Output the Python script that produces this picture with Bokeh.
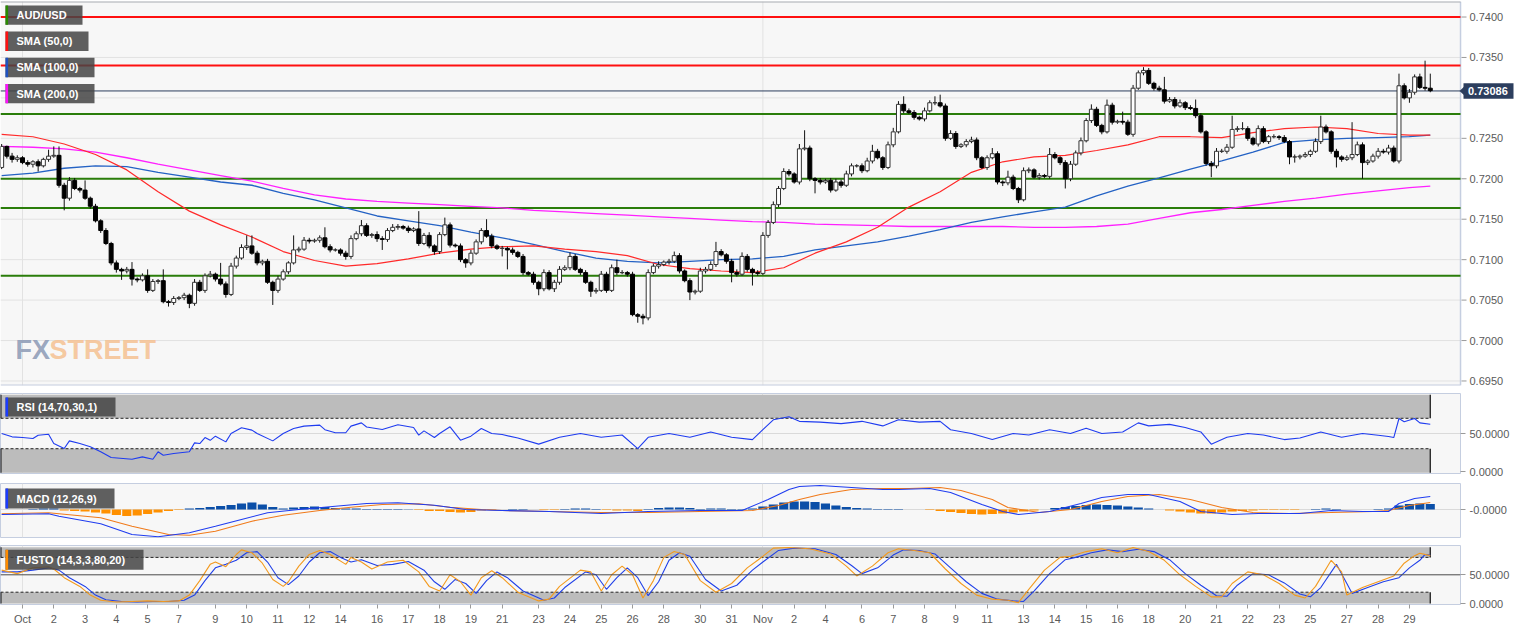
import numpy as np
from bokeh.plotting import figure
from bokeh.models import Range1d, Span, FixedTicker, NumeralTickFormatter
from bokeh.layouts import column
from bokeh.embed import file_html
from bokeh.resources import INLINE
from bokeh.core.properties import value

# ------------------------------------------------------------------ data
# 4-hour candles, bar index 0 = Oct 1 00:00 (prices in pips, 1e-4)
first_open = 7214
closes = [
    7240,7228,7224,7226,7220,7218,7221,7216,7224,7228,7229,7192,7176,7198,7188,7186,7176,7166,7148,7136,7120,7096,7088,7086,7088,
    7076,7075,7080,7062,7073,7074,7048,7047,7052,7053,7056,7046,7072,7062,7080,7082,7076,7070,7057,7092,7102,7115,7117,7108,7096,
    7098,7072,7062,7076,7085,7096,7112,7113,7124,7123,7124,7127,7116,7112,7112,7108,7104,7126,7132,7142,7130,7131,7126,7125,7136,
    7140,7141,7139,7136,7138,7120,7130,7117,7110,7131,7143,7118,7117,7100,7096,7108,7122,7136,7129,7117,7114,7114,7112,7109,7104,
    7084,7082,7072,7064,7084,7064,7072,7088,7090,7104,7088,7084,7072,7061,7062,7082,7062,7090,7084,7084,7082,7032,7030,7028,7084,
    7092,7094,7097,7098,7105,7086,7074,7060,7061,7086,7088,7094,7110,7106,7098,7084,7082,7104,7088,7084,7083,7130,7146,7168,7188,
    7209,7206,7196,7237,7238,7200,7198,7196,7198,7186,7196,7192,7206,7216,7216,7210,7222,7234,7226,7214,7242,7258,7292,7284,7282,
    7276,7274,7284,7294,7294,7290,7250,7256,7240,7242,7246,7248,7226,7214,7226,7231,7196,7195,7202,7188,7174,7210,7211,7202,7204,
    7203,7230,7226,7220,7200,7218,7232,7247,7272,7286,7266,7258,7291,7270,7271,7270,7255,7312,7331,7334,7318,7312,7310,7296,7298,
    7290,7294,7288,7287,7278,7258,7219,7216,7234,7234,7239,7261,7262,7262,7250,7243,7262,7246,7252,7252,7251,7246,7227,7227,7228,
    7230,7234,7246,7264,7258,7234,7227,7224,7226,7230,7242,7220,7222,7228,7234,7233,7238,7222,7315,7300,7307,7326,7313,7312,7309,
]
wick_up = [
    3,1,4,3,2,3,2,3,2,8,11,11,3,4,3,2,12,2,3,2,3,2,3,2,3,
    9,2,3,8,3,2,14,2,3,2,3,2,4,3,3,4,2,20,3,4,3,4,13,13,3,
    2,3,2,4,3,2,18,3,4,3,2,3,13,3,2,2,3,4,3,7,3,2,4,3,3,
    4,3,2,3,2,22,3,4,2,3,9,3,2,3,2,4,3,3,14,3,2,3,2,3,2,
    3,2,3,2,4,3,3,4,3,5,3,2,3,2,3,4,3,4,10,3,2,3,2,3,4,
    3,4,2,3,5,3,2,3,2,4,3,4,12,3,2,3,4,5,3,2,3,4,3,4,3,
    4,3,2,6,22,3,2,3,2,3,4,3,4,3,2,3,4,8,3,2,4,5,4,10,3,
    3,2,4,3,8,10,3,4,3,2,3,4,3,2,3,7,3,2,8,3,2,4,3,2,3,
    2,8,3,2,3,4,3,4,3,6,3,2,7,3,2,12,3,4,3,4,3,2,3,16,3,
    3,4,2,3,11,3,2,3,4,3,4,17,3,8,3,2,4,3,2,3,2,3,2,3,2,
    3,2,4,14,3,2,3,2,3,40,4,3,2,3,4,3,4,3,15,3,4,3,4,33,18,
]
wick_dn = [
    2,3,4,3,2,3,4,7,2,3,2,3,15,3,2,3,2,3,2,3,2,3,4,11,3,
    8,3,2,3,2,3,2,5,3,2,3,6,3,2,3,2,3,2,4,2,3,2,3,2,3,
    3,2,18,3,2,3,2,3,2,3,2,3,2,3,2,3,4,3,2,3,2,3,4,13,3,
    2,3,2,3,2,3,2,3,4,3,2,3,2,3,6,3,2,3,2,3,2,10,24,3,2,
    3,2,3,8,3,2,4,3,2,3,2,3,2,7,3,2,3,2,3,2,3,2,8,8,3,
    2,3,2,3,2,3,2,10,3,2,3,2,3,2,3,12,3,2,3,16,3,2,3,2,3,
    2,3,2,3,2,3,16,3,2,3,2,3,2,3,2,3,2,3,2,3,2,3,2,3,2,
    3,2,3,2,3,2,3,2,3,2,3,2,3,2,3,2,3,4,3,2,4,2,3,2,3,
    2,3,2,3,12,3,2,3,2,3,2,3,2,3,2,3,2,3,2,3,2,3,2,3,2,
    3,2,3,2,3,2,3,14,3,2,3,2,3,2,3,2,3,2,3,2,3,2,9,7,3,
    2,3,2,3,2,3,13,3,2,3,2,20,3,2,3,2,3,2,3,2,6,3,2,3,2,
]
last_price = 0.73086

# moving averages read once a day
sma_bar = [-4] + list(range(2, 267, 6)) + [270]
sma50 = [7255,7252,7243,7230,7211,7184,7160,7143,7128,7110,7099,7092,7095,7101,7108,7113,7116,7117,7113,7110,
         7105,7094,7089,7086,7084,7090,7108,7122,7140,7165,7184,7208,7221,7227,7229,7235,7242,7252,7252,7251,
         7257,7262,7264,7262,7256,7254,7254]
sma100 = [7204,7207,7213,7216,7215,7208,7202,7196,7192,7182,7174,7164,7154,7148,7142,7134,7127,7119,7110,7102,
          7098,7096,7098,7100,7101,7104,7112,7117,7122,7129,7137,7146,7153,7159,7165,7179,7191,7201,7212,7222,
          7233,7245,7248,7250,7251,7252,7254]
sma200 = [7240,7239,7237,7233,7226,7218,7211,7204,7197,7188,7180,7175,7172,7170,7168,7166,7164,7161,7159,7157,
          7155,7153,7151,7149,7147,7146,7144,7143,7142,7141,7141,7141,7141,7140,7140,7141,7144,7151,7158,7162,
          7167,7172,7176,7181,7185,7189,7191]

red_levels = [0.7400, 0.7340]
green_levels = [0.7280, 0.7200, 0.7164, 0.7080]
price_ticks = [0.6950, 0.7000, 0.7050, 0.7100, 0.7150, 0.7200, 0.7250, 0.7300, 0.7350, 0.7400]

# RSI (14)
rsi_bar = [-4,-2,0,2,3,5,6,8,9,11,13,15,17,21,23,25,26,27,29,32,33,34,35,36,37,39,40,42,44,45,48,50,52,54,57,58,60,62,
           63,65,66,69,72,75,76,77,79,80,82,84,86,88,90,92,95,99,103,107,111,115,118,120,124,128,132,136,140,142,144,
           147,149,153,157,161,165,168,172,176,178,182,186,190,193,197,201,204,207,211,214,216,220,223,226,228,231,
           235,238,242,245,249,253,257,260,262,263,264,265,267,268,270]
rsi_val = [50,45.6,44.7,43.4,47.8,49,36.8,30.3,40.3,36.8,32.5,25.9,18.4,16.2,19.3,16.2,25.9,21.5,23.7,25.9,37.7,36.8,
           44.7,41,46.5,39,50,57.5,54.4,50,40.3,50,56.6,59.7,61,55,51,51,59.7,64,58.5,55.3,61.4,57.9,47.8,53.5,44.7,
           50,58.8,41.2,46.5,56.6,50,48.6,44,36,45,50,45,48,30,45,50,45,52,45,42,55,68,72,66,65,63,66,60,68,65,66,55,
           50,42,50,48,55,50,57,50,52,64,60,62,58,52,36,45,50,48,42,44,52,45,50,47.8,46,44.7,69.7,65.4,69.7,64,62.2]

# MACD (12,26,9) in units of 1e-5
macd_bar = [-4,5,7,15,21,26,32,37,42,47,53,60,66,72,79,85,92,101,111,120,130,138,143,147,149,153,159,165,168,174,
            178,184,188,191,197,203,207,212,216,222,226,232,237,245,251,257,262,264,267,270]
macd_val = [-5,-4.3,-6.7,-14.3,-25,-27.3,-23.3,-16.7,-10,-3.3,0,3.3,6,6.7,4.3,0,-1,-2,-4,-2,-1,-1,10,20,23,24,22,20,
            20,21,17,5,-2,-5,-2,6,12,15,15,8,-2,-5,-4,-4,-1,-2,-2,6,11,13]
sig_bar = [-4,5,15,21,28,32,37,44,50,57,63,69,76,82,88,92,101,111,120,130,140,145,149,153,159,165,170,176,180,186,
           189,195,201,207,212,218,224,230,236,243,251,259,262,266,270]
sig_val = [-4.3,-3.3,-8.3,-16.7,-25,-25.7,-21.7,-11.7,-5.7,-1,2.3,5,5.7,2.3,0,-1,-2,-3,-3,-2,-1,4,10,15,20,21,21,22,
           19,10,2,-3,0,8,13,15,10,2,-3,-4,-3,-2,-1,4,7]
hist_bar = list(range(-4, 271, 2))
hist_val = [0,0,0,0.5,1,1,-1,-1.5,-2,-3,
            -4,-5.5,-6.5,-6,-4.5,-3,-1.5,-0.5,1,1.5,
            2.5,3.5,4.5,6,7,5,2.5,1,2,2.5,
            3,2.5,1.5,1,1,0.5,0.5,0.5,0.5,0.3,
            -0.5,-1.5,-1.5,-2.5,-3,-2.5,-1,-0.5,0,0.5,
            0.5,0,-0.5,-0.5,0.5,1,1,0.5,-0.5,-1,
            -1,-1.5,0.5,1.5,2,2,1.5,0.5,1,1,
            0.5,0.5,1,3,5,7,8,8,7.5,6,
            4,2.5,1.5,1,0.5,0.5,0.5,0,0,-0.5,
            -1.5,-2.5,-3.5,-4.5,-5,-4.5,-4,-3,-2,-1,
            0,1.5,2.5,3.5,4.5,5,4.5,4,3,2,
            1,0,-1,-2,-3,-4,-4,-3,-2,-1.5,
            -1,-0.5,-0.5,-0.5,-0.5,0,0.5,1,0.5,0,
            0,0,0.5,1,4,5.5,6,5.5]

# Full stochastic (14,3,3,80,20)
stk_bar = [-4,-1,2,5,6,8,11,13,15,18,21,24,27,30,32,34,36,37,39,41,42,44,46,48,50,51,53,55,57,59,62,63,65,67,70,73,76,
           78,80,82,84,86,88,90,92,95,99,101,103,107,109,111,113,115,117,119,121,123,125,127,130,133,136,139,141,144,
           147,151,155,158,160,163,166,168,171,174,177,180,183,186,189,191,193,196,199,201,204,207,210,213,216,219,
           222,225,228,230,232,235,238,241,244,246,248,251,253,254,257,260,263,265,267,268,270]
stk_val = [58,52,62,64,60,45,30,15,6,3,4,5,4,5,15,40,68,72,64,85,93,88,70,42,30,38,65,85,92,85,68,80,72,60,72,75,55,
           30,22,50,38,15,45,57,45,20,5,8,30,58,55,22,50,65,50,10,40,80,90,85,40,20,35,62,75,96,97,95,86,65,48,65,88,
           95,92,88,60,35,15,8,6,2,25,58,80,82,90,95,88,97,90,75,50,30,12,12,35,55,50,35,15,10,30,75,55,15,28,38,48,
           70,83,87,83]
std_bar = [-4,-1,2,5,7,9,12,14,16,19,22,25,28,31,33,35,37,39,41,43,45,47,49,51,53,55,57,59,61,63,65,68,71,74,77,79,81,
           83,85,87,89,91,93,96,100,102,104,108,110,112,114,116,118,120,122,124,126,128,131,134,137,140,142,145,148,
           152,156,159,161,164,167,169,172,175,178,181,184,187,190,192,194,197,200,202,205,208,211,214,217,220,223,
           226,229,231,233,236,239,242,245,247,249,252,254,255,258,261,264,266,268,269,270]
std_val = [55,55,58,62,58,45,30,15,7,4,3,4,4,6,15,40,62,68,75,88,90,72,45,33,48,72,88,90,80,72,76,66,68,73,58,38,25,
           42,35,18,40,55,45,22,6,10,28,55,50,25,45,62,45,14,38,75,88,82,42,22,32,58,72,92,96,95,85,66,52,62,84,93,92,
           86,62,38,18,8,5,4,22,52,76,80,88,93,90,94,90,76,52,32,14,13,32,52,50,36,17,12,28,68,35,18,28,38,45,62,75,
           85,84]

tick_bars = [0,6,12,18,24,30,37,43,49,55,61,68,74,80,86,92,99,105,111,117,123,130,136,142,148,154,161,167,173,179,
             185,192,198,204,210,216,223,229,235,241,247,254,260,266]
tick_labels = ["Oct","2","3","4","5","7","9","10","11","12","14","16","17","18","19","21","23","24","25","26","28",
               "30","31","Nov","2","4","6","7","8","9","11","13","14","15","16","18","20","21","22","23","25","27",
               "28","29"]
month_bars = [0, 142]

# ------------------------------------------------------------------ derived
bars = np.arange(-4, 271)
c = np.array(closes, float) / 1e4
o = np.concatenate([[first_open / 1e4], c[:-1]])
hi = np.maximum(o, c) + np.array(wick_up) / 1e4
lo = np.minimum(o, c) - np.array(wick_dn) / 1e4
bull = c >= o

W = 1515
RB = 55
PX = 5.214            # pixels per bar
X0 = -4.22            # left frame edge in bars
XE = 275.8            # right frame edge of the chart area in bars
FONT = "Liberation Sans"
BG = "#f7f7f7"
OUTLINE = "#c5cee0"
LABEL_COL = "#5a5a5a"
xr = Range1d(X0, XE)


def bx(px):
    return (px - 22) / PX


def style(fig):
    fig.background_fill_color = BG
    fig.border_fill_color = "white"
    fig.outline_line_color = OUTLINE
    fig.xaxis.visible = False
    fig.xgrid.ticker = FixedTicker(ticks=month_bars)
    fig.xgrid.grid_line_color = "#e2e2e2"
    ax = fig.yaxis[0]
    ax.axis_line_color = None
    ax.major_tick_out = 5
    ax.major_tick_in = 0
    ax.minor_tick_line_color = None
    ax.major_tick_line_color = "#9a9a9a"
    ax.major_label_text_font_size = "11px"
    ax.major_label_text_color = LABEL_COL
    ax.major_label_text_font = FONT
    ax.major_label_standoff = 4


def tag(fig, x0, x1, yt, yb, text, mcol, ymap):
    fig.quad(left=bx(x0), right=bx(x1), top=ymap(yt), bottom=ymap(yb),
             fill_color="#444444", fill_alpha=0.85, line_color=None)
    fig.quad(left=bx(x0), right=bx(x0 + 2.6), top=ymap(yt), bottom=ymap(yb),
             fill_color=mcol, fill_alpha=1, line_color=None)
    fig.text(x=[bx(x0 + 11)], y=[ymap((yt + yb) / 2)], text=[text], text_baseline="middle",
             text_align="left", text_color="white", text_font_size="11px", text_font_style="bold",
             text_font=value(FONT))


# ------------------------------------------------------------------ main panel
# the frame covers the full width so that the price box can sit in the axis area
YT, YB = 0.74192, 0.69444
xr_main = Range1d(X0, X0 + W / PX)
p = figure(width=W, height=387, x_range=xr_main, y_range=Range1d(YB, YT), output_backend="svg",
           toolbar_location=None, min_border_left=0, min_border_right=0, min_border_top=1, min_border_bottom=2)
p.frame_align = False
p.xaxis.visible = False
p.yaxis.visible = False
p.grid.visible = False
p.outline_line_color = None
p.background_fill_color = "white"
p.border_fill_color = "white"


def main_y(ypx):
    return YT - (ypx - 1) / 396 * (YT - YB)


p.quad(left=X0, right=XE, bottom=YB, top=YT, fill_color=BG, line_color=None)
n = len(price_ticks)
p.segment(x0=[X0] * n, y0=price_ticks, x1=[XE] * n, y1=price_ticks, line_color="#e2e2e2", line_width=1)
p.segment(x0=month_bars, y0=[YB] * 2, x1=month_bars, y1=[YT] * 2, line_color="#e2e2e2", line_width=1)
p.segment(x0=[XE], y0=[YB], x1=[XE], y1=[YT], line_color=OUTLINE, line_width=1.5)
p.segment(x0=[X0], y0=[YT], x1=[XE], y1=[YT], line_color="#a8abb2", line_width=2)
p.segment(x0=[X0], y0=[YB], x1=[XE], y1=[YB], line_color=OUTLINE, line_width=2)

# watermark
p.text(x=[bx(15)], y=[main_y(376)], text=["FX"], text_font=value(FONT),
       text_font_size="27px", text_font_style="bold", text_color="#8f9db8", text_alpha=0.9)
p.text(x=[bx(49)], y=[main_y(376)], text=["STREET"], text_font=value(FONT),
       text_font_size="27px", text_font_style="bold", text_color="#f5c395", text_alpha=0.9)

nr, ng = len(red_levels), len(green_levels)
p.segment(x0=[X0] * nr, y0=red_levels, x1=[XE] * nr, y1=red_levels, line_color="#ff1010", line_width=2)
p.segment(x0=[X0] * ng, y0=green_levels, x1=[XE] * ng, y1=green_levels, line_color="#2a7d0a", line_width=2)
p.segment(x0=[X0], y0=[last_price], x1=[XE], y1=[last_price], line_color="#2c3e5e", line_width=1)

p.line(sma_bar, np.array(sma200) / 1e4, line_color="#ff20ff", line_width=1.3)
p.line(sma_bar, np.array(sma100) / 1e4, line_color="#2462c4", line_width=1.3)
p.line(sma_bar, np.array(sma50) / 1e4, line_color="#ff2a2a", line_width=1.2)

p.segment(bars, hi, bars, lo, line_color="#111111", line_width=1)
p.vbar(x=bars[bull], width=0.76, top=c[bull], bottom=o[bull], fill_color="white", line_color="#333333",
       line_width=1)
p.vbar(x=bars[~bull], width=0.76, top=o[~bull], bottom=c[~bull], fill_color="black", line_color="black",
       line_width=1)

tag(p, 5, 82, 5, 25, "AUD/USD", "#2a8a00", main_y)
tag(p, 5, 88, 32, 52, "SMA (50,0)", "#ff1010", main_y)
tag(p, 5, 94, 59, 79, "SMA (100,0)", "#1f52c0", main_y)
tag(p, 5, 94, 86, 106, "SMA (200,0)", "#ff10ff", main_y)

# price axis drawn in the area right of the chart
shown = [t for t in price_ticks if abs(t - 0.7300) > 1e-9]
p.segment(x0=[bx(1461)] * len(shown), y0=shown, x1=[bx(1466)] * len(shown), y1=shown,
          line_color="#9a9a9a", line_width=1)
p.text(x=[bx(1469)] * len(shown), y=shown, text=["%.4f" % t for t in shown], text_baseline="middle",
       text_align="left", text_color=LABEL_COL, text_font_size="11px", text_font=value(FONT))

# current price marker
h = 8 / 396 * (YT - YB)
p.patch(x=[bx(1459), bx(1464), bx(1464)], y=[last_price, last_price + h * 0.6, last_price - h * 0.6],
        fill_color="#2c3e5e", line_color=None)
p.quad(left=bx(1463), right=bx(1513), bottom=last_price - h, top=last_price + h, fill_color="#2c3e5e",
       line_color=None)
p.text(x=[bx(1467.5)], y=[last_price], text=["%.5f" % last_price], text_baseline="middle", text_align="left",
       text_color="white", text_font_size="11px", text_font_style="bold", text_font=value(FONT))


def bands(fig, lo_band, hi_band, top_edge, bottom_edge):
    last = float(bars[-1])
    fig.quad(left=X0, right=last, bottom=hi_band, top=top_edge, fill_color="#bcbcbc", line_color=None)
    fig.quad(left=X0, right=last, bottom=bottom_edge, top=lo_band, fill_color="#bcbcbc", line_color=None)
    fig.segment([last, last], [hi_band, bottom_edge], [last, last], [top_edge, lo_band], line_color="#111111",
                line_width=1.2)
    fig.segment([X0, X0], [hi_band, bottom_edge], [X0, X0], [top_edge, lo_band],
                line_color="#111111", line_width=2)
    fig.segment([X0, X0], [hi_band, lo_band], [last, last], [hi_band, lo_band],
                line_color="#222222", line_width=1, line_dash="3 2")


# ------------------------------------------------------------------ RSI
r = figure(width=W, height=93, x_range=xr, y_range=Range1d(-2.6, 102.6), output_backend="svg",
           toolbar_location=None, y_axis_location="right", min_border_left=0, min_border_right=RB,
           min_border_top=6, min_border_bottom=7)
style(r)
r.yaxis.ticker = FixedTicker(ticks=[0, 50])
r.yaxis.formatter = NumeralTickFormatter(format="0.0000")
r.ygrid.ticker = FixedTicker(ticks=[50])
r.ygrid.grid_line_color = "#dadada"
bands(r, 30, 70, 101, -1.6)
r.line(rsi_bar, rsi_val, line_color="#1f3cf0", line_width=1.1)
tag(r, 5, 115, 409, 428, "RSI (14,70,30,1)", "#1b3cff", lambda ypx: (483 - ypx) / 0.76)

# ------------------------------------------------------------------ MACD
m = figure(width=W, height=60, x_range=xr, y_range=Range1d(-28, 26), output_backend="svg",
           toolbar_location=None, y_axis_location="right", min_border_left=0, min_border_right=RB,
           min_border_top=3, min_border_bottom=3)
style(m)
m.yaxis.ticker = FixedTicker(ticks=[0])
m.yaxis.major_label_overrides = {0: "-0.0000"}
m.ygrid.ticker = FixedTicker(ticks=[0])
m.ygrid.grid_line_color = "#dadada"
hv = np.array(hist_val, float)
hb = np.array(hist_bar)
m.vbar(x=hb[hv >= 0], width=1.75, top=hv[hv >= 0], bottom=0, fill_color="#0b4fa8", line_color=None)
m.vbar(x=hb[hv < 0], width=1.75, top=0, bottom=hv[hv < 0], fill_color="#ff9000", line_color=None)
m.line(sig_bar, sig_val, line_color="#f07a1a", line_width=1.1)
m.line(macd_bar, macd_val, line_color="#1f3cf0", line_width=1.1)
tag(m, 5, 114, 499, 519, "MACD (12,26,9)", "#1b3cff", lambda ypx: 520 - ypx)

# ------------------------------------------------------------------ Stochastic
s = figure(width=W, height=87, x_range=xr, y_range=Range1d(-1.2, 100.5), output_backend="svg",
           toolbar_location=None, y_axis_location="right", min_border_left=0, min_border_right=RB,
           min_border_top=5, min_border_bottom=23)
style(s)
s.yaxis.ticker = FixedTicker(ticks=[0, 50])
s.yaxis.formatter = NumeralTickFormatter(format="0.0000")
s.ygrid.grid_line_color = None
bands(s, 20, 80, 97.5, 0.4)
s.add_layout(Span(location=50, dimension="width", line_color="#4a4a4a", line_width=1))
s.line(std_bar, std_val, line_color="#2040e8", line_width=1.1)
s.line(stk_bar, stk_val, line_color="#f39a1e", line_width=1.1)
tag(s, 5, 143, 562, 582, "FUSTO (14,3,3,80,20)", "#ff8c00", lambda ypx: (616 - ypx) / 0.58)

s.xaxis.visible = True
xa = s.xaxis[0]
xa.ticker = FixedTicker(ticks=tick_bars)
xa.major_label_overrides = {b: t for b, t in zip(tick_bars, tick_labels)}
xa.axis_line_color = None
xa.major_tick_out = 4
xa.major_tick_in = 0
xa.minor_tick_line_color = None
xa.major_tick_line_color = "#9a9a9a"
xa.major_label_text_font_size = "11px"
xa.major_label_text_color = LABEL_COL
xa.major_label_text_font = FONT
xa.major_label_standoff = 4

layout = column(p, r, m, s, spacing=0)
open("out.html", "w").write(file_html(layout, INLINE))
